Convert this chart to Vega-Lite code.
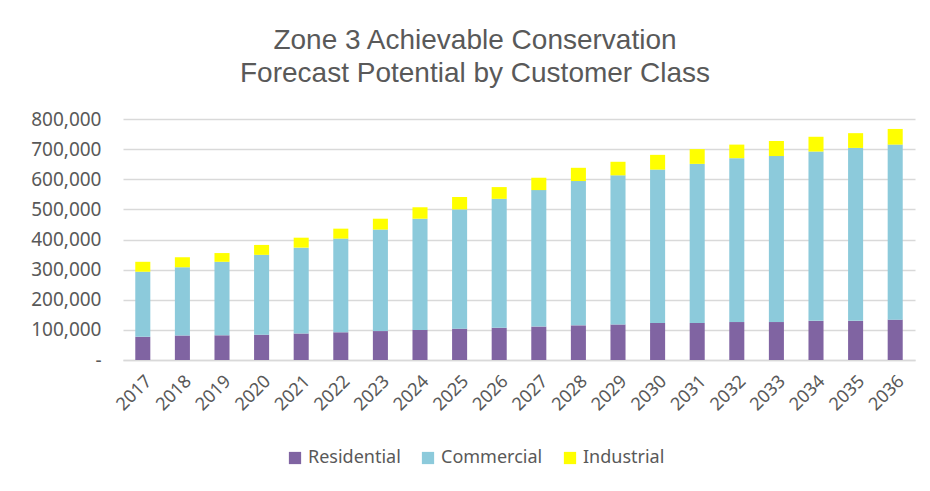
{
  "$schema": "https://vega.github.io/schema/vega-lite/v6.json",
  "width": 792,
  "height": 241,
  "autosize": {"type": "none"},
  "padding": {"left": 123, "top": 119, "right": 15, "bottom": 131},
  "background": "white",
  "title": {
    "text": ["Zone 3 Achievable Conservation", "Forecast Potential by Customer Class"],
    "fontSize": 28,
    "font": "Liberation Sans",
    "fontWeight": "normal",
    "color": "#595959",
    "lineHeight": 33,
    "offset": 22,
    "dx": -44,
    "anchor": "middle"
  },
  "data": {
    "values": [
      {"Year": "2017", "Residential": 77000, "Commercial": 216000, "Industrial": 33000},
      {"Year": "2018", "Residential": 81000, "Commercial": 227000, "Industrial": 33000},
      {"Year": "2019", "Residential": 82000, "Commercial": 244000, "Industrial": 29000},
      {"Year": "2020", "Residential": 84000, "Commercial": 265000, "Industrial": 33000},
      {"Year": "2021", "Residential": 88000, "Commercial": 285000, "Industrial": 33000},
      {"Year": "2022", "Residential": 92000, "Commercial": 311000, "Industrial": 33000},
      {"Year": "2023", "Residential": 96000, "Commercial": 337000, "Industrial": 36000},
      {"Year": "2024", "Residential": 100000, "Commercial": 369000, "Industrial": 38000},
      {"Year": "2025", "Residential": 104000, "Commercial": 396000, "Industrial": 41000},
      {"Year": "2026", "Residential": 107000, "Commercial": 428000, "Industrial": 39000},
      {"Year": "2027", "Residential": 111000, "Commercial": 453000, "Industrial": 41000},
      {"Year": "2028", "Residential": 115000, "Commercial": 479000, "Industrial": 44000},
      {"Year": "2029", "Residential": 118000, "Commercial": 495000, "Industrial": 45000},
      {"Year": "2030", "Residential": 123000, "Commercial": 509000, "Industrial": 49000},
      {"Year": "2031", "Residential": 123000, "Commercial": 528000, "Industrial": 49000},
      {"Year": "2032", "Residential": 126000, "Commercial": 544000, "Industrial": 45000},
      {"Year": "2033", "Residential": 126000, "Commercial": 551000, "Industrial": 50000},
      {"Year": "2034", "Residential": 130000, "Commercial": 562000, "Industrial": 49000},
      {"Year": "2035", "Residential": 130000, "Commercial": 574000, "Industrial": 49000},
      {"Year": "2036", "Residential": 134000, "Commercial": 581000, "Industrial": 52000}
    ]
  },
  "transform": [
    {"fold": ["Residential", "Commercial", "Industrial"], "as": ["Class", "Value"]},
    {"window": [{"op": "row_number", "as": "StackRank"}], "groupby": ["Year"]}
  ],
  "mark": {"type": "bar"},
  "encoding": {
    "x": {
      "field": "Year",
      "type": "ordinal",
      "title": null,
      "scale": {"paddingInner": 0.62, "paddingOuter": 0.31},
      "axis": {
        "labelAngle": -45,
        "labelFontSize": 18,
        "labelFont": "Noto Sans",
        "labelColor": "#595959",
        "labelPadding": 12,
        "ticks": false,
        "domainColor": "#D9D9D9",
        "domainWidth": 1.5
      }
    },
    "y": {
      "field": "Value",
      "type": "quantitative",
      "stack": "zero",
      "title": null,
      "scale": {"domain": [0, 800000], "nice": false},
      "axis": {
        "values": [0, 100000, 200000, 300000, 400000, 500000, 600000, 700000, 800000],
        "labelExpr": "datum.value == 0 ? '-' : format(datum.value, ',')",
        "labelFontSize": 19,
        "labelFont": "Noto Sans",
        "labelColor": "#595959",
        "labelPadding": 22,
        "ticks": false,
        "domain": false,
        "gridColor": "#D9D9D9",
        "gridWidth": 1.5
      }
    },
    "color": {
      "field": "Class",
      "type": "nominal",
      "sort": ["Residential", "Commercial", "Industrial"],
      "scale": {
        "domain": ["Residential", "Commercial", "Industrial"],
        "range": ["#8064A2", "#8CCADB", "#FFFF00"]
      },
      "legend": {
        "title": null,
        "orient": "none",
        "direction": "horizontal",
        "legendX": 163,
        "legendY": 330,
        "symbolType": "square",
        "symbolSize": 150,
        "symbolStrokeWidth": 0,
        "labelFontSize": 18,
        "labelFont": "Noto Sans",
        "labelColor": "#595959",
        "labelOffset": 4,
        "columnPadding": 18
      }
    },
    "order": {"field": "StackRank", "type": "quantitative", "sort": "ascending"}
  },
  "config": {
    "view": {"stroke": null}
  }
}
